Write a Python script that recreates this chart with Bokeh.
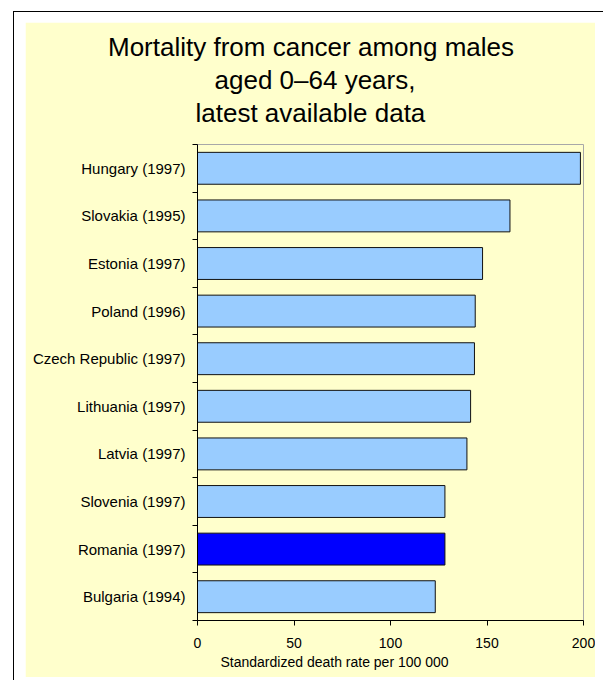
from bokeh.plotting import figure
from bokeh.models import (Range1d, FixedTicker, CustomJSTickFormatter, Title,
                          ColumnDataSource, Spacer)
from bokeh.layouts import column, row
from bokeh.embed import file_html
from bokeh.resources import INLINE

# ---- data ----
countries = ["Hungary (1997)", "Slovakia (1995)", "Estonia (1997)", "Poland (1996)",
             "Czech Republic (1997)", "Lithuania (1997)", "Latvia (1997)",
             "Slovenia (1997)", "Romania (1997)", "Bulgaria (1994)"]
values = [198.4, 161.9, 147.7, 143.9, 143.5, 141.5, 139.6, 128.2, 128.2, 123.2]
highlight = "Romania (1997)"
x_ticks = [0, 50, 100, 150, 200]
title_lines = ["Mortality from cancer among males", "aged 0\u201364 years,", "latest available data"]
x_label = "Standardized death rate per 100 000"

FONT = "Liberation Sans"
YELLOW = "#ffffcc"

n = len(countries)
ypos = [i + 0.5 for i in range(n)]
colors = ["#0000ff" if c == highlight else "#99ccff" for c in countries]
source = ColumnDataSource(dict(y=ypos, value=values, color=colors, name=countries))

p = figure(width=570, height=655, output_backend="svg", toolbar_location=None,
           x_range=Range1d(0, 200), y_range=Range1d(n, 0),
           min_border_left=172, min_border_right=12, min_border_top=122,
           min_border_bottom=57, border_fill_color=YELLOW,
           background_fill_color=YELLOW, margin=0)

p.hbar(y="y", right="value", left=0, height=0.67, fill_color="color",
       line_color="#111111", line_width=1, source=source)

p.xgrid.visible = False
p.ygrid.visible = False
p.outline_line_color = "#a8a8a8"
p.outline_line_width = 1

xa = p.xaxis[0]
xa.ticker = FixedTicker(ticks=x_ticks, minor_ticks=[])
xa.major_tick_out = 5
xa.major_tick_in = 0
xa.minor_tick_out = 0
xa.axis_line_color = "black"
xa.major_tick_line_color = "black"
xa.major_label_text_font = FONT
xa.major_label_text_font_size = "14px"
xa.major_label_text_color = "black"
xa.major_label_standoff = 12

ya = p.yaxis[0]
ya.ticker = FixedTicker(ticks=ypos, minor_ticks=list(range(n + 1)))
ya.formatter = CustomJSTickFormatter(args=dict(names=countries),
                                     code="return names[Math.floor(tick)]")
ya.major_tick_out = 0
ya.major_tick_in = 0
ya.minor_tick_out = 5
ya.minor_tick_in = 0
ya.minor_tick_line_color = "black"
ya.axis_line_color = "black"
ya.major_label_text_font = FONT
ya.major_label_text_font_size = "15px"
ya.major_label_text_color = "black"
ya.major_label_standoff = 7

# spacer between the title block and the plot area
p.add_layout(Title(text=" ", text_font_size="12px", standoff=0,
                   text_color=YELLOW), "above")
# title lines (innermost first), left-aligned with offsets from the frame's left edge
title_offsets = [-89.5, 17, -2]
for t, off in reversed(list(zip(title_lines, title_offsets))):
    p.add_layout(Title(text=t, align="left", offset=off, standoff=1,
                       text_font=FONT, text_font_size="26px",
                       text_font_style="normal", text_color="black"), "above")

p.add_layout(Title(text=x_label, align="left", offset=23, standoff=2,
                   text_font=FONT, text_font_size="14px",
                   text_font_style="normal", text_color="black"), "below")

# page structure built only from fixed-size blocks (no CSS margins or borders)
top_line = Spacer(width=590, height=1, margin=0, styles={"background-color": "black"})
left_line = Spacer(width=1, height=668, margin=0, styles={"background-color": "black"})

panel = column(Spacer(width=570, height=10, margin=0), p, margin=0)
inner = row(left_line, Spacer(width=11, height=10, margin=0), panel,
            Spacer(width=8, height=10, margin=0), margin=0)
boxed = column(top_line, inner, margin=0)
root = column(Spacer(width=603, height=11, margin=0),
              row(Spacer(width=13, height=10, margin=0), boxed, margin=0),
              margin=0)

open("out.html", "w").write(file_html(root, INLINE))
